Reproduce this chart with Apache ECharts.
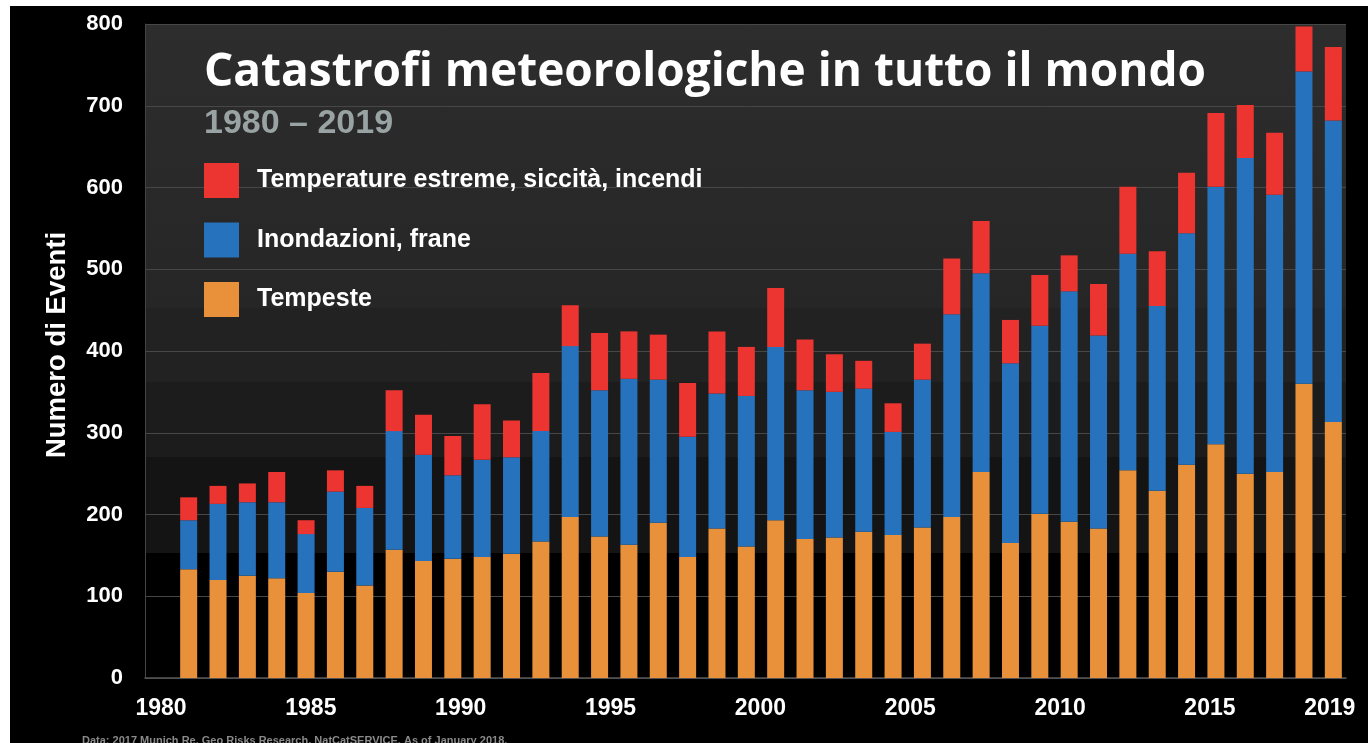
<!DOCTYPE html>
<html>
<head>
<meta charset="utf-8">
<title>Catastrofi meteorologiche</title>
<script src="https://cdn.jsdelivr.net/npm/echarts@6/dist/echarts.min.js"></script>
<style>
  html, body { margin: 0; padding: 0; background: #fff; }
  #bg { position: absolute; left: 10px; top: 6px; width: 1358px; height: 737px; background: #000; }
  #main { position: absolute; left: 0; top: 0; width: 1368px; height: 743px; }
</style>
</head>
<body>
<div id="bg"></div>
<div id="main"></div>
<script>
// anni 1980 - 2019
var years = [];
for (var y = 1980; y <= 2019; y++) years.push(String(y));

var yearLabels = [1980, 1985, 1990, 1995, 2000, 2005, 2010, 2015, 2019];

// numero di eventi
var tempeste = [133, 120, 125, 122, 104, 130, 113, 157, 143, 146,
                148, 152, 167, 197, 173, 163, 190, 148, 183, 161,
                193, 170, 172, 179, 175, 184, 197, 252, 165, 201,
                191, 183, 254, 229, 261, 286, 250, 252, 360, 313];
var inondazioni = [60, 93, 90, 93, 72, 98, 95, 145, 130, 102,
                   119, 118, 135, 209, 179, 203, 175, 147, 165, 184,
                   212, 182, 178, 175, 126, 181, 248, 243, 220, 230,
                   282, 236, 265, 226, 283, 315, 386, 339, 382, 369];
var temperature = [28, 22, 23, 37, 17, 26, 27, 50, 49, 48,
                   68, 45, 71, 50, 70, 58, 55, 66, 76, 60,
                   72, 62, 46, 34, 35, 44, 68, 64, 53, 62,
                   44, 63, 82, 67, 74, 90, 65, 76, 55, 90];

var nomi = ['Temperature estreme, siccità, incendi', 'Inondazioni, frane', 'Tempeste'];
var colori = ['#ec3530', '#2672bd', '#e8913a'];

var font = '"Liberation Sans", Arial, sans-serif';

var chart = echarts.init(document.getElementById('main'));
chart.setOption({
    backgroundColor: 'transparent',
    animation: false,
    title: {
        text: 'Catastrofi meteorologiche in tutto il mondo',
        subtext: '1980 – 2019',
        left: 199,
        top: 45,
        itemGap: 11,
        textStyle: { color: '#fff', fontSize: 46, fontWeight: 'bold', fontFamily: '"Open Sans", sans-serif' },
        subtextStyle: { color: '#9aa3a3', fontSize: 34, fontWeight: 'bold', fontFamily: font }
    },
    legend: {
        orient: 'vertical',
        left: 199,
        top: 158,
        itemWidth: 35,
        itemHeight: 35,
        itemGap: 24.5,
        icon: 'rect',
        data: nomi,
        textStyle: { color: '#fff', fontSize: 25, fontWeight: 'bold', fontFamily: font, padding: [0, 0, 0, 13] }
    },
    grid: [
        { left: 145, right: 22, top: 24, bottom: 65, show: true, borderWidth: 0,
          backgroundColor: {
              type: 'linear', x: 0, y: 0, x2: 0, y2: 1,
              colorStops: [
                  { offset: 0, color: '#2d2d2d' },
                  { offset: 0.434, color: '#262626' },
                  { offset: 0.434, color: '#222222' },
                  { offset: 0.547, color: '#222222' },
                  { offset: 0.547, color: '#1c1c1c' },
                  { offset: 0.662, color: '#1c1c1c' },
                  { offset: 0.662, color: '#141414' },
                  { offset: 0.809, color: '#141414' },
                  { offset: 0.809, color: '#000000' },
                  { offset: 1, color: '#000000' }
              ]
          } },
        { left: 174, right: 20, top: 24, bottom: 65 }
    ],
    xAxis: [
        {
            type: 'value', gridIndex: 0, min: 1979.466, max: 2019.54,
            axisLine: { show: true, lineStyle: { color: '#555', width: 1.5 } },
            axisTick: { show: false },
            splitLine: { show: false },
            axisLabel: {
                customValues: yearLabels,
                color: '#fff', fontSize: 23, fontWeight: 'bold', fontFamily: font, margin: 19,
                formatter: function (v) { return String(Math.round(v)); }
            }
        },
        { type: 'category', gridIndex: 1, data: years, show: false }
    ],
    yAxis: [
        {
            type: 'value', gridIndex: 0, min: 0, max: 800, interval: 100,
            name: 'Numero di Eventi',
            nameLocation: 'middle',
            nameGap: 74,
            nameTextStyle: { color: '#fff', fontSize: 27.5, fontWeight: 'bold', fontFamily: font, padding: [0, 0, 0, 12] },
            axisLine: { show: true, lineStyle: { color: '#444' } },
            axisTick: { show: false },
            splitLine: { lineStyle: { color: '#474747', width: 1 } },
            axisLabel: { color: '#fff', fontSize: 22, fontWeight: 'bold', fontFamily: font, margin: 22 }
        },
        { type: 'value', gridIndex: 1, min: 0, max: 800, show: false }
    ],
    series: [
        { name: nomi[2], type: 'bar', stack: 'eventi', xAxisIndex: 1, yAxisIndex: 1, barWidth: 17,
          itemStyle: { color: colori[2] }, data: tempeste },
        { name: nomi[1], type: 'bar', stack: 'eventi', xAxisIndex: 1, yAxisIndex: 1, barWidth: 17,
          itemStyle: { color: colori[1] }, data: inondazioni },
        { name: nomi[0], type: 'bar', stack: 'eventi', xAxisIndex: 1, yAxisIndex: 1, barWidth: 17,
          itemStyle: { color: colori[0] }, data: temperature }
    ],
    graphic: [
        { type: 'text', left: 82, top: 735,
          style: { text: 'Data: 2017 Munich Re, Geo Risks Research, NatCatSERVICE. As of January 2018.',
                   fill: '#8a8a8a', fontSize: 11, fontWeight: 'bold', fontFamily: font } }
    ]
});
</script>
</body>
</html>
